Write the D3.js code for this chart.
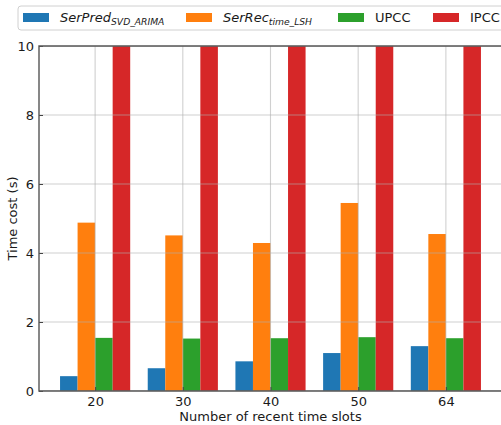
<!DOCTYPE html>
<html>
<head>
<meta charset="utf-8">
<script src="https://cdn.jsdelivr.net/npm/d3@7"></script>
<style>
  html, body { margin: 0; padding: 0; background: #fff; }
  svg { display: block; font-family: "DejaVu Sans", sans-serif; }
</style>
</head>
<body>
<svg id="chart" width="501" height="425"></svg>
<script>
// Time cost per method over the number of recent time slots
const slots = ["20", "30", "40", "50", "64"];
const serPred = [0.43, 0.66, 0.86, 1.10, 1.30];
const serRec  = [4.88, 4.51, 4.29, 5.45, 4.55];
const upcc    = [1.54, 1.52, 1.53, 1.56, 1.53];
const ipcc    = [10, 10, 10, 10, 10];
const yTicks  = [0, 2, 4, 6, 8, 10];

const series = [
  { name: "SerPred", sub: "SVD_ARIMA", values: serPred, color: "#1f77b4" },
  { name: "SerRec",  sub: "time_LSH",  values: serRec,  color: "#ff7f0e" },
  { name: "UPCC",    sub: null,        values: upcc,    color: "#2ca02c" },
  { name: "IPCC",    sub: null,        values: ipcc,    color: "#d62728" }
];

const svg = d3.select("#chart");
const plotL = 39, plotR = 502, plotT = 46, plotB = 391;
const barW = 0.2;

const x = d3.scaleLinear().domain([-0.64, slots.length - 1 + 0.64]).range([plotL, plotR]);
const y = d3.scaleLinear().domain([0, 10]).range([plotB, plotT]);

svg.append("defs").append("clipPath").attr("id", "plot")
  .append("rect").attr("x", plotL).attr("y", plotT)
  .attr("width", plotR - plotL).attr("height", plotB - plotT);

// bars
const plot = svg.append("g").attr("clip-path", "url(#plot)");
series.forEach((s, si) => {
  plot.append("g").selectAll("rect").data(s.values).join("rect")
    .attr("x", (d, i) => x(i + (si - 2) * barW))
    .attr("width", (d, i) => x(i + (si - 1) * barW) - x(i + (si - 2) * barW))
    .attr("y", d => y(d))
    .attr("height", d => y(0) - y(d))
    .attr("fill", s.color);
});

// grid over the bars
const grid = svg.append("g").attr("clip-path", "url(#plot)")
  .attr("stroke", "#b0b0b0").attr("stroke-opacity", 0.6).attr("stroke-width", 1.1);
grid.selectAll("line.h").data(yTicks).join("line").attr("class", "h")
  .attr("x1", plotL).attr("x2", plotR)
  .attr("y1", d => y(d)).attr("y2", d => y(d));
grid.selectAll("line.v").data(slots).join("line").attr("class", "v")
  .attr("x1", (d, i) => x(i)).attr("x2", (d, i) => x(i))
  .attr("y1", plotT).attr("y2", plotB);

// axes
const xAxis = d3.axisBottom(x).tickValues(d3.range(slots.length))
  .tickFormat(i => slots[i]).tickSize(-4).tickPadding(6);
const yAxis = d3.axisLeft(y).tickValues(yTicks).tickSize(-4).tickPadding(5);

const gx = svg.append("g").attr("transform", `translate(0,${plotB})`).call(xAxis);
const gy = svg.append("g").attr("transform", `translate(${plotL},0)`).call(yAxis);
[gx, gy].forEach(g => {
  g.select(".domain").remove();
  g.selectAll(".tick line").attr("stroke", "#444").attr("stroke-width", 1);
  g.selectAll(".tick text").attr("fill", "#1a1a1a").style("font-size", "13px")
    .style("font-family", "DejaVu Sans, sans-serif");
});

// spines: left, bottom, top
const spines = svg.append("g").attr("stroke", "#555").attr("stroke-width", 1.4).attr("fill", "none");
spines.append("path").attr("d", `M${plotR},${plotT}H${plotL}V${plotB}H${plotR}`);

// axis titles
svg.append("text").attr("x", (plotL + plotR) / 2).attr("y", 421)
  .attr("text-anchor", "middle").attr("fill", "#1a1a1a").style("font-size", "13px")
  .text("Number of recent time slots");
svg.append("text").attr("transform", `translate(17,${(plotT + plotB) / 2}) rotate(-90)`)
  .attr("text-anchor", "middle").attr("fill", "#1a1a1a").style("font-size", "13px")
  .text("Time cost (s)");

// legend
const legend = svg.append("g");
legend.append("rect").attr("x", 18).attr("y", 6).attr("width", 500).attr("height", 24)
  .attr("rx", 3).attr("fill", "#fff").attr("stroke", "#d0d0d0").attr("stroke-width", 1);
const legendX = [23, 186, 338, 433];
series.forEach((s, i) => {
  const g = legend.append("g").attr("transform", `translate(${legendX[i]},0)`);
  g.append("rect").attr("x", 0).attr("y", 13).attr("width", 26).attr("height", 9).attr("fill", s.color);
  const t = g.append("text").attr("x", 37).attr("y", 22).attr("fill", "#1a1a1a").style("font-size", "13px");
  if (s.sub) {
    t.append("tspan").style("font-style", "italic").text(s.name);
    t.append("tspan").style("font-style", "italic").style("font-size", "9.2px")
      .attr("dy", 3).text(s.sub);
  } else {
    t.text(s.name);
  }
});
</script>
</body>
</html>
